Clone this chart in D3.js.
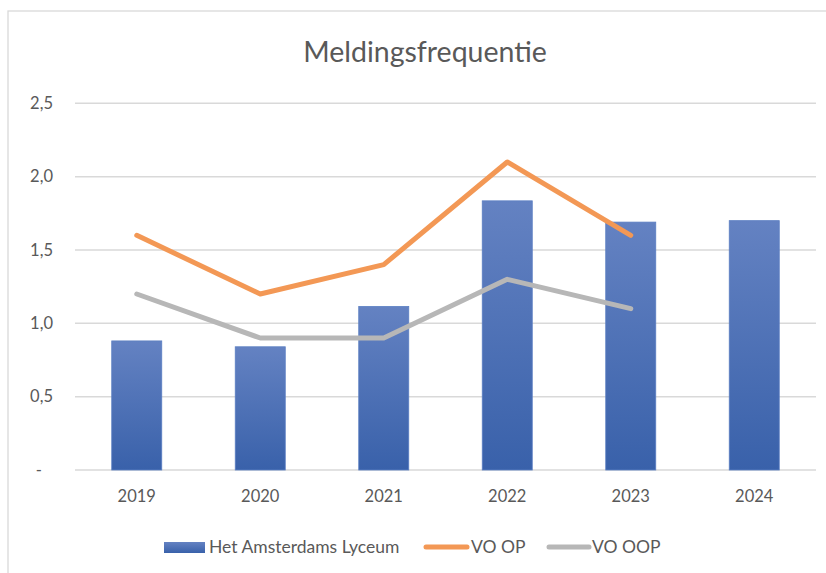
<!DOCTYPE html>
<html>
<head>
<meta charset="utf-8">
<script src="https://cdn.jsdelivr.net/npm/d3@7"></script>
<style>
  body { margin: 0; background: #fff; }
  svg { display: block; }
</style>
</head>
<body>
<div id="chart"></div>
<script>
// Data
const years = ["2019", "2020", "2021", "2022", "2023", "2024"];
const lyceum = [0.88, 0.84, 1.115, 1.835, 1.69, 1.70];
const voOP = [1.6, 1.2, 1.4, 2.1, 1.6];
const voOOP = [1.2, 0.9, 0.9, 1.3, 1.1];
const yTicks = [0, 0.5, 1.0, 1.5, 2.0, 2.5];

const W = 826, H = 573;
const plot = { left: 75, right: 816, top: 103.3, bottom: 470 };
const font = "Lato, 'Open Sans', sans-serif";
const textColor = "#595959";

const svg = d3.select("#chart").append("svg")
    .attr("width", W).attr("height", H)
    .style("font-family", font);

// Frame
svg.append("rect")
    .attr("x", 8).attr("y", 11)
    .attr("width", W + 10).attr("height", H + 10)
    .attr("fill", "#fff").attr("stroke", "#d9d9d9").attr("stroke-width", 1.3);

// Gradient for bars
const grad = svg.append("defs").append("linearGradient")
    .attr("id", "barGrad").attr("x1", 0).attr("y1", 0).attr("x2", 0).attr("y2", 1);
grad.append("stop").attr("offset", "0%").attr("stop-color", "#6482c2");
grad.append("stop").attr("offset", "100%").attr("stop-color", "#3961aa");

// Scales
const x = d3.scaleBand().domain(years).range([plot.left, plot.right]).paddingInner(0.595).paddingOuter(0.2975);
const xc = d => x(d) + x.bandwidth() / 2;
const y = d3.scaleLinear().domain([0, 2.5]).range([plot.bottom, plot.top]);

// Gridlines
svg.append("g").selectAll("line").data(yTicks).join("line")
    .attr("x1", plot.left).attr("x2", plot.right)
    .attr("y1", d => y(d)).attr("y2", d => y(d))
    .attr("stroke", "#d9d9d9").attr("stroke-width", 1.5);

// Y axis labels
const fmt = d => d === 0 ? "-" : d3.format(".1f")(d).replace(".", ",");
const yAxis = svg.append("g")
    .attr("transform", `translate(57,0)`)
    .call(d3.axisLeft(y).tickValues(yTicks).tickFormat(fmt).tickSize(0).tickPadding(4));
yAxis.select(".domain").remove();
yAxis.selectAll("text")
    .attr("fill", textColor).style("font-size", "16.5px").style("font-family", font)
    .attr("x", d => d === 0 ? -15 : -4);

// X axis labels
const xAxis = svg.append("g")
    .attr("transform", `translate(0,${plot.bottom})`)
    .call(d3.axisBottom(x).tickSize(0).tickPadding(20));
xAxis.select(".domain").remove();
xAxis.selectAll("text")
    .attr("fill", textColor).style("font-size", "16.5px").style("font-family", font);

// Bars
svg.append("g").selectAll("rect").data(years).join("rect")
    .attr("x", d => x(d))
    .attr("y", (d, i) => y(lyceum[i]))
    .attr("width", x.bandwidth())
    .attr("height", (d, i) => y(0) - y(lyceum[i]))
    .attr("fill", "url(#barGrad)")
    .attr("stroke", "#5b7fc2").attr("stroke-width", 0.8);

// Lines
const line = d3.line().x((d, i) => xc(years[i])).y(d => y(d));
svg.append("path").datum(voOOP)
    .attr("d", line).attr("fill", "none")
    .attr("stroke", "#b7b7b7").attr("stroke-width", 5)
    .attr("stroke-linecap", "round").attr("stroke-linejoin", "round");
svg.append("path").datum(voOP)
    .attr("d", line).attr("fill", "none")
    .attr("stroke", "#f39855").attr("stroke-width", 5)
    .attr("stroke-linecap", "round").attr("stroke-linejoin", "round");

// Title
svg.append("text")
    .attr("x", 425).attr("y", 62)
    .attr("text-anchor", "middle")
    .attr("fill", textColor)
    .style("font-size", "28.5px")
    .text("Meldingsfrequentie");

// Legend
const legY = 547;
const leg = svg.append("g").style("font-size", "17.5px").attr("fill", textColor);
leg.append("rect").attr("x", 164).attr("y", legY - 5).attr("width", 41).attr("height", 11)
    .attr("fill", "url(#barGrad)");
leg.append("text").attr("x", 209).attr("y", legY + 6).text("Het Amsterdams Lyceum");
leg.append("line").attr("x1", 426).attr("x2", 467).attr("y1", legY).attr("y2", legY)
    .attr("stroke", "#f39855").attr("stroke-width", 5).attr("stroke-linecap", "round");
leg.append("text").attr("x", 471).attr("y", legY + 6).text("VO OP");
leg.append("line").attr("x1", 549).attr("x2", 589).attr("y1", legY).attr("y2", legY)
    .attr("stroke", "#b7b7b7").attr("stroke-width", 5).attr("stroke-linecap", "round");
leg.append("text").attr("x", 592).attr("y", legY + 6).text("VO OOP");
</script>
</body>
</html>
